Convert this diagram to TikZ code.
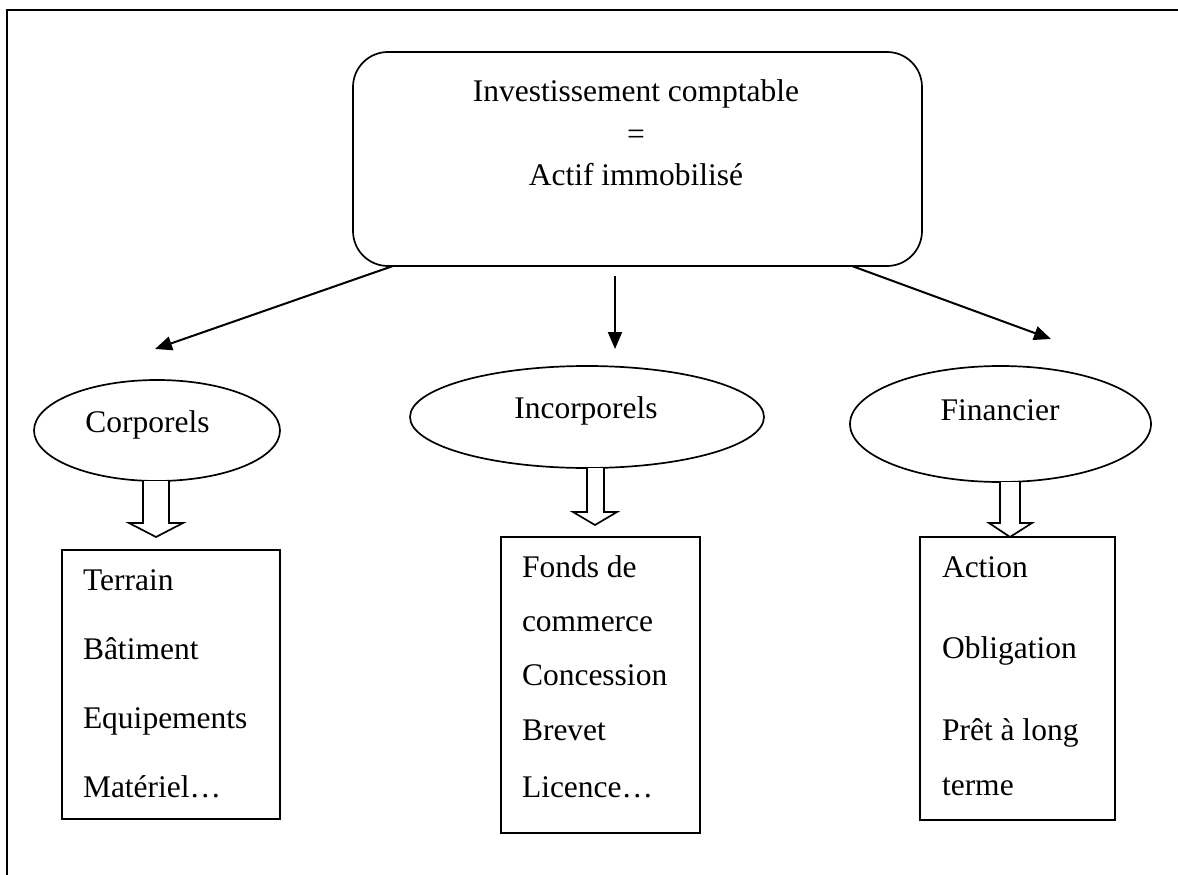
\documentclass[tikz,border=0pt]{standalone}
\usepackage{fontspec}
\setmainfont{Liberation Serif}
\usetikzlibrary{shapes.geometric,arrows.meta,calc}
\begin{document}
\begin{tikzpicture}[x=1pt,y=-1pt,
  every node/.style={inner sep=0pt, outer sep=0pt},
  txt/.style={font=\fontsize{31.5}{40}\selectfont, anchor=base},
  ltxt/.style={txt, anchor=base west},
  shp/.style={draw=black, line width=1.7pt},
  conn/.style={line width=2pt, -{Triangle[length=17pt,width=14pt]}},
  hollow/.style={draw=black, line width=1.7pt, fill=white, line join=miter}]
\useasboundingbox (0,0) rectangle (1178,875);
% frame
\draw[line width=2pt] (7,875) -- (7,10) -- (1178,10);
% top box
\node[shp, rounded corners=35pt, minimum width=569pt, minimum height=214pt] (top) at (637.5,159) {};
\node[txt] (t1) at (636,101) {Investissement comptable};
\node[txt] (t2) at (636,144) {=};
\node[txt] (t3) at (636,185) {Actif immobilisé};
% ellipses
\node[shp, ellipse, minimum width=246pt, minimum height=101pt] (e1) at (157,430.5) {};
\node[shp, ellipse, minimum width=354pt, minimum height=102pt] (e2) at (587,417) {};
\node[shp, ellipse, minimum width=301pt, minimum height=116pt] (e3) at (1000.5,424) {};
\node[txt] (l1) at (147.5,432) {Corporels};
\node[txt] (l2) at (586,418) {Incorporels};
\node[txt] (l3) at (1000,420) {Financier};
% connectors
\coordinate (a1) at ($(top.south west)+(40,0)$);
\coordinate (a1t) at (155,349);
\coordinate (a2) at (615,276);
\coordinate (a2t) at (615,349);
\coordinate (a3) at ($(top.south east)+(-70,0)$);
\coordinate (a3t) at (1051,339);
\draw[conn] (a1) -- (a1t);
\draw[conn] (a2) -- (a2t);
\draw[conn] (a3) -- (a3t);
% boxes
\node[shp, minimum width=218pt, minimum height=269pt] (b1) at (171,684.5) {};
\node[shp, minimum width=199pt, minimum height=296pt] (b2) at (600.5,685) {};
\node[shp, minimum width=195pt, minimum height=283pt] (b3) at (1017.5,678.5) {};
% hollow arrows
\draw[hollow] (143,481) -- (143,523) -- (129,523) -- (156,537) -- (183,523) -- (169,523) -- (169,481);
\draw[hollow] (587,468) -- (587,512) -- (573,512) -- (595,525) -- (617,512) -- (604,512) -- (604,468);
\draw[hollow] (1000,482) -- (1000,523) -- (989,523) -- (1010,537) -- (1032,523) -- (1020,523) -- (1020,482);
% box texts
\node[ltxt] (c1) at (83,590) {Terrain};
\node[ltxt] (c2) at (83,659) {Bâtiment};
\node[ltxt] (c3) at (83,728) {Equipements};
\node[ltxt] (c4) at (83,797) {Matériel…};
\node[ltxt] (i1) at (522,577) {Fonds de};
\node[ltxt] (i2) at (522,631) {commerce};
\node[ltxt] (i3) at (522,685) {Concession};
\node[ltxt] (i4) at (522,740) {Brevet};
\node[ltxt] (i5) at (522,797) {Licence…};
\node[ltxt] (f1) at (942,577) {Action};
\node[ltxt] (f2) at (942,658) {Obligation};
\node[ltxt] (f3) at (942,740) {Prêt à long};
\node[ltxt] (f4) at (942,795) {terme};
\end{tikzpicture}
\end{document}
